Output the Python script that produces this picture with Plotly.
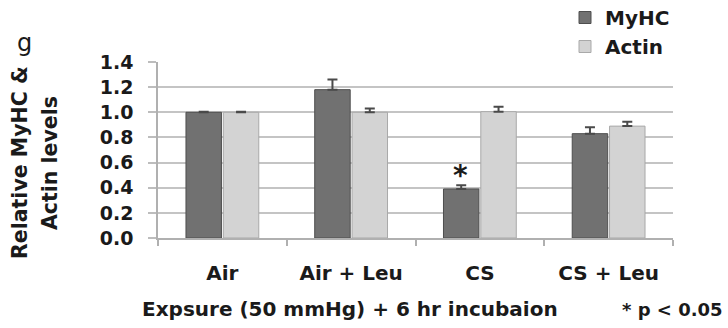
import plotly.graph_objects as go

categories = ["Air", "Air + Leu", "CS", "CS + Leu"]
myhc = [1.0, 1.18, 0.39, 0.83]
myhc_err = [0.005, 0.08, 0.03, 0.05]
actin = [1.0, 1.0, 1.005, 0.89]
actin_err = [0.005, 0.03, 0.04, 0.035]
y_ticks = [0.0, 0.2, 0.4, 0.6, 0.8, 1.0, 1.2, 1.4]
y_tick_labels = ["0.0", "0.2", "0.4", "0.6", "0.8", "1.0", "1.2", "1.4"]

FONT = "DejaVu Sans"
W, H = 728, 328
L, R, T, B = 158, 55, 62, 90
PW = W - L - R
PH = H - T - B


def px_x(x):
    return (x - L) / PW


def px_y(y):
    return (H - B - y) / PH


fig = go.Figure()
fig.add_trace(go.Bar(
    name="MyHC", x=categories, y=myhc,
    marker=dict(color="#717171", line=dict(color="#4e4e4e", width=1)),
    error_y=dict(type="data", array=myhc_err, arrayminus=[0] * 4,
                 color="#4a4a4a", thickness=2, width=5),
))
fig.add_trace(go.Bar(
    name="Actin", x=categories, y=actin,
    marker=dict(color="#d3d3d3", line=dict(color="#a9a9a9", width=1)),
    error_y=dict(type="data", array=actin_err, arrayminus=[0] * 4,
                 color="#4a4a4a", thickness=2, width=5),
))

fig.update_layout(
    width=W, height=H,
    margin=dict(l=L, r=R, t=T, b=B, autoexpand=False),
    paper_bgcolor="white", plot_bgcolor="white",
    barmode="group", bargap=0.42, bargroupgap=0.05,
    font=dict(family=FONT, color="#1a1a1a"),
    showlegend=True,
    legend=dict(
        x=px_x(565), y=px_y(-2), xanchor="left", yanchor="top",
        font=dict(family=FONT, size=20, weight="bold", color="#1a1a1a"),
        bgcolor="rgba(0,0,0,0)", tracegroupgap=0,
    ),
    xaxis=dict(
        type="category", tickson="boundaries", ticks="outside", ticklen=6,
        tickcolor="#b0b0b0", tickwidth=1.5,
        showline=True, linecolor="#b0b0b0", linewidth=1.5,
        showgrid=False,
        tickfont=dict(family=FONT, size=20, weight="bold", color="#1a1a1a"),
        ticklabelstandoff=16,
    ),
    yaxis=dict(
        range=[0, 1.4], tickvals=y_ticks, ticktext=y_tick_labels,
        ticks="outside", ticklen=8, tickcolor="#bdbdbd", tickwidth=1.5,
        showline=True, linecolor="#b0b0b0", linewidth=1.5,
        showgrid=True, gridcolor="#c4c4c4", gridwidth=1.5,
        zeroline=False,
        tickfont=dict(family=FONT, size=19, weight="bold", color="#1a1a1a"),
        ticklabelstandoff=11,
    ),
)

annotations = [
    dict(text="g", xref="paper", yref="paper", x=px_x(24), y=px_y(43),
         xanchor="center", yanchor="middle", showarrow=False,
         font=dict(family=FONT, size=24, color="#1a1a1a")),
    dict(text="Relative MyHC &", xref="paper", yref="paper",
         x=px_x(20), y=px_y(163), textangle=-90,
         xanchor="center", yanchor="middle", showarrow=False,
         font=dict(family=FONT, size=20.5, weight="bold", color="#1a1a1a")),
    dict(text="Actin levels", xref="paper", yref="paper",
         x=px_x(50), y=px_y(163), textangle=-90,
         xanchor="center", yanchor="middle", showarrow=False,
         font=dict(family=FONT, size=20.5, weight="bold", color="#1a1a1a")),
    dict(text="Expsure (50 mmHg) + 6 hr incubaion", xref="paper", yref="paper",
         x=px_x(350), y=px_y(309), xanchor="center", yanchor="middle",
         showarrow=False,
         font=dict(family=FONT, size=20, weight="bold", color="#1a1a1a")),
    dict(text="* p < 0.05", xref="paper", yref="paper",
         x=px_x(620), y=px_y(309), xanchor="left", yanchor="middle",
         showarrow=False,
         font=dict(family=FONT, size=18, weight="bold", color="#1a1a1a")),
    dict(text="*", xref="x", yref="y", x="CS", y=0.5, xshift=-19,
         xanchor="center", yanchor="middle", showarrow=False,
         font=dict(family=FONT, size=28, weight="bold", color="#1a1a1a")),
]
fig.update_layout(annotations=annotations)

fig.write_html(
    "out.html",
    config={"displayModeBar": False},
    post_script="document.body.style.margin='0';document.body.style.padding='0';",
)
